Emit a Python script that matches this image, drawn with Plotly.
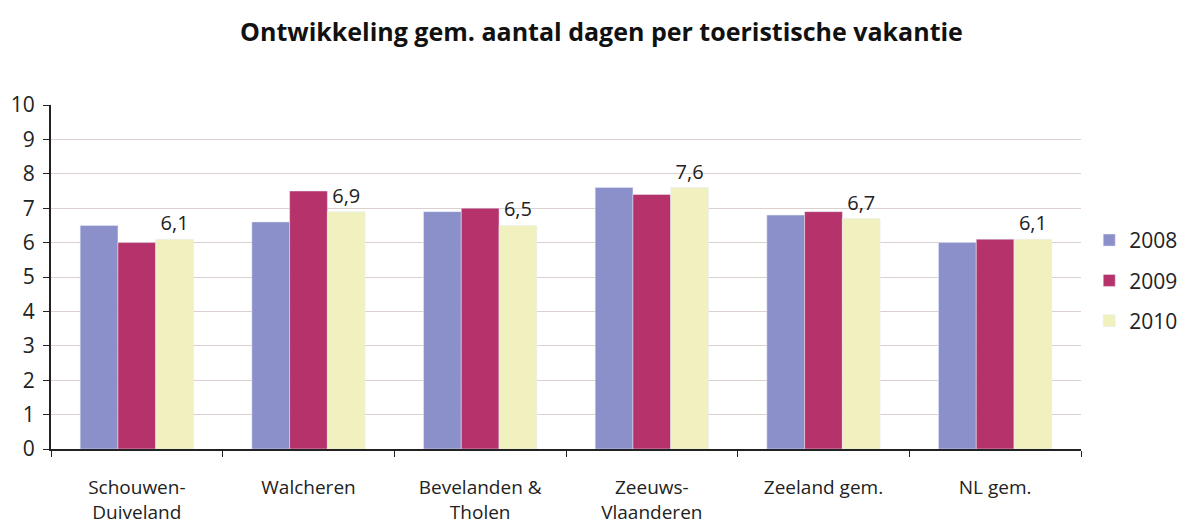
import plotly.graph_objects as go

regions = ['Schouwen-<br>Duiveland', 'Walcheren', 'Bevelanden &<br>Tholen',
           'Zeeuws-<br>Vlaanderen', 'Zeeland gem.', 'NL gem.']
days_2008 = [6.5, 6.6, 6.9, 7.6, 6.8, 6.0]
days_2009 = [6.0, 7.5, 7.0, 7.4, 6.9, 6.1]
days_2010 = [6.1, 6.9, 6.5, 7.6, 6.7, 6.1]

font = 'Open Sans, Liberation Sans, sans-serif'

fig = go.Figure()
fig.add_trace(go.Bar(x=regions, y=days_2008, name='2008', legendgroup='a',
                     marker_color='#8b8fca'))
fig.add_trace(go.Bar(x=regions, y=days_2009, name='2009', legendgroup='b',
                     marker_color='#b6326b'))
fig.add_trace(go.Bar(x=regions, y=days_2010, name='2010', legendgroup='c',
                     marker_color='#f1f1c0',
                     texttemplate='%{y:.1f}', textposition='outside',
                     textfont=dict(size=20, color='#222'), cliponaxis=False))

fig.update_layout(
    width=1187, height=529,
    separators=',.',
    plot_bgcolor='white', paper_bgcolor='white',
    font=dict(family=font, color='#222'),
    title=dict(text='<b>Ontwikkeling gem. aantal dagen per toeristische vakantie</b>',
               x=0.5, xanchor='center', y=0.955, yanchor='middle',
               font=dict(size=25, color='#111')),
    margin=dict(l=43, r=98, t=97, b=88),
    barmode='group', bargap=0.34, bargroupgap=0,
    showlegend=True,
    legend=dict(x=1.008, xanchor='left', y=0.49, yanchor='middle',
                font=dict(size=21), itemwidth=30, tracegroupgap=10),
)
fig.update_yaxes(range=[0, 10], dtick=1, showgrid=True, gridcolor='#dcd0cf',
                 showline=True, linecolor='#222', linewidth=2,
                 ticks='outside', ticklen=6, tickcolor='#222', ticklabelstandoff=4,
                 tickfont=dict(size=21), zeroline=False, automargin=False)
fig.update_xaxes(showline=True, linecolor='#222', linewidth=2,
                 ticks='outside', ticklen=6, tickcolor='#222', tickson='boundaries',
                 ticklabelstandoff=20, tickfont=dict(size=19), automargin=False)

fig.write_html('out.html')
